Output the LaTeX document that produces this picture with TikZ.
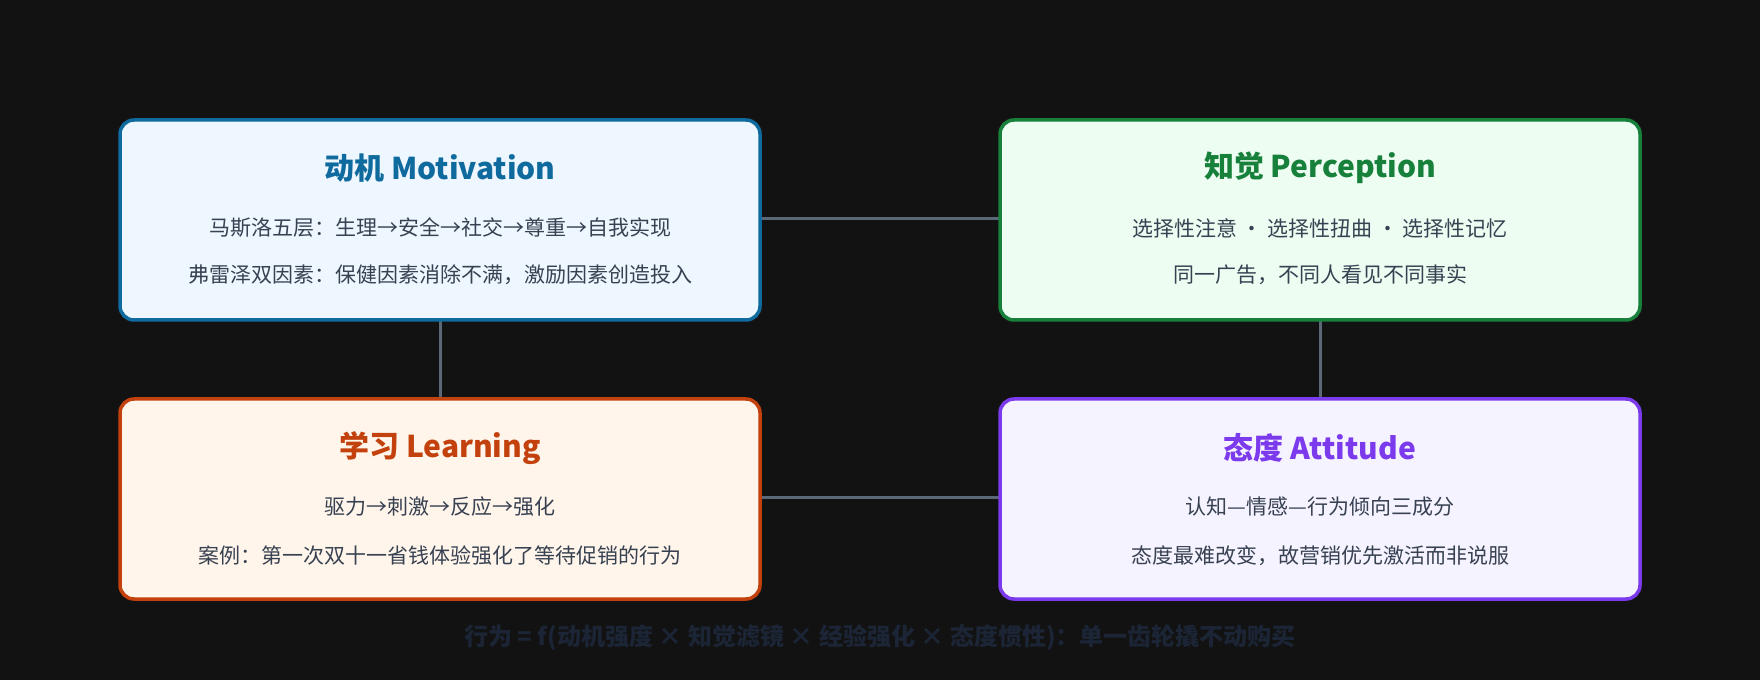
\documentclass[tikz,border=0pt]{standalone}
\usepackage{fontspec}
\setmainfont{Noto Sans CJK SC}
\usetikzlibrary{positioning}
\definecolor{bgc}{HTML}{121212}
\definecolor{linkc}{HTML}{5B6878}
\definecolor{txtc}{HTML}{374151}
\definecolor{motc}{HTML}{0F6A9E}\definecolor{motf}{HTML}{EEF6FF}
\definecolor{perc}{HTML}{17803A}\definecolor{perf}{HTML}{EEFDF2}
\definecolor{lrnc}{HTML}{C2410C}\definecolor{lrnf}{HTML}{FFF5EA}
\definecolor{attc}{HTML}{7C3AED}\definecolor{attf}{HTML}{F5F3FF}
\definecolor{notec}{HTML}{1B2536}
\tikzset{
  box/.style={draw=#1, line width=3.5pt, rounded corners=14pt, minimum width=640pt, minimum height=200pt, inner sep=0pt},
  ttl/.style={font=\fontsize{30}{30}\selectfont\bfseries, text=#1},
  body/.style={font=\fontsize{21}{21}\selectfont, text=txtc},
  link/.style={draw=linkc, line width=3pt}
}
\begin{document}
\begin{tikzpicture}[x=1pt,y=1pt]

% canvas
\fill[bgc] (0,0) rectangle (1760,680);
\useasboundingbox (0,0) rectangle (1760,680);

% links behind the boxes
\coordinate (mr) at (760,461); \coordinate (pl) at (999,461);
\coordinate (lr) at (760,182); \coordinate (al) at (999,182);
\coordinate (mb) at (440,360); \coordinate (lt) at (440,281);
\coordinate (pb) at (1320,360); \coordinate (at) at (1320,281);
\draw[link] (mr) -- (pl);
\draw[link] (lr) -- (al);
\draw[link] (mb) -- (lt);
\draw[link] (pb) -- (at);

% four boxes
\node[box=motc, fill=motf] (mot) at (440,460) {};
\node[box=perc, fill=perf] (per) at (1320,460) {};
\node[box=lrnc, fill=lrnf] (lrn) at (440,181) {};
\node[box=attc, fill=attf] (att) at (1320,181) {};

\node[ttl=motc] (motT) at (440,512) {动机 Motivation};
\node[body] (mot1) at (440,452) {马斯洛五层：生理→安全→社交→尊重→自我实现};
\node[body] (mot2) at (440,405) {弗雷泽双因素：保健因素消除不满，激励因素创造投入};

\node[ttl=perc] (perT) at (1320,512) {知觉 Perception};
\node[body] (per1) at (1320,452) {选择性注意 · 选择性扭曲 · 选择性记忆};
\node[body] (per2) at (1320,405) {同一广告，不同人看见不同事实};

\node[ttl=lrnc] (lrnT) at (440,232) {学习 Learning};
\node[body] (lrn1) at (440,173) {驱力→刺激→反应→强化};
\node[body] (lrn2) at (440,124) {案例：第一次双十一省钱体验强化了等待促销的行为};

\node[ttl=attc] (attT) at (1320,232) {态度 Attitude};
\node[body] (att1) at (1320,173) {认知—情感—行为倾向三成分};
\node[body] (att2) at (1320,124) {态度最难改变，故营销优先激活而非说服};

% footnote
\node[font=\fontsize{24}{24}\selectfont\bfseries, text=notec] (note) at (880,42)
  {行为 = f(动机强度 × 知觉滤镜 × 经验强化 × 态度惯性)：单一齿轮撬不动购买};

\end{tikzpicture}
\end{document}
